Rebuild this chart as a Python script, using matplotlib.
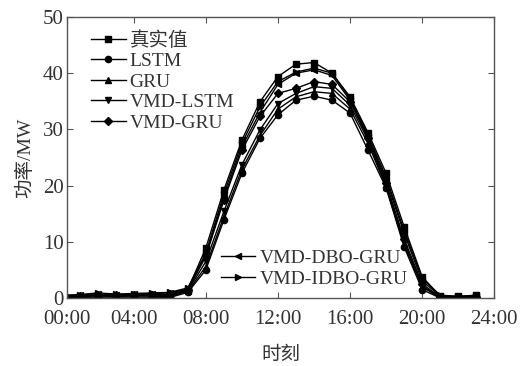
import matplotlib
matplotlib.use("Agg")
import matplotlib.pyplot as plt

plt.rcParams['font.family'] = ['Liberation Serif', 'Noto Sans CJK SC']
plt.rcParams['axes.unicode_minus'] = False

hours = list(range(24))
tick_pos = [0.28, 4, 8, 12, 16, 20, 24]
tick_labels = ["00:00", "04:00", "08:00", "12:00", "16:00", "20:00", "24:00"]

actual = [0.3, 0.3, 0.5, 0.3, 0.5, 0.5, 0.6, 1.5, 8.9, 19.2, 28.1, 34.9, 39.4, 41.6, 41.9, 40.0, 35.8, 29.4, 22.2, 12.7, 3.8, 0.3, 0.3, 0.5]
lstm = [0.0, 0.0, 0.0, 0.0, 0.0, 0.0, 0.1, 1.0, 5.0, 13.9, 22.2, 28.4, 32.6, 35.2, 35.9, 35.2, 32.9, 26.3, 19.6, 9.1, 1.5, 0.0, 0.0, 0.0]
gru = [0.0, 0.1, 0.2, 0.2, 0.2, 0.2, 0.3, 1.2, 5.6, 14.5, 22.9, 28.9, 33.6, 35.8, 36.7, 36.4, 33.6, 27.5, 19.8, 9.5, 2.0, 0.0, 0.0, 0.0]
vmd_lstm = [0.1, 0.2, 0.4, 0.3, 0.4, 0.4, 0.5, 1.3, 6.5, 15.4, 23.7, 29.9, 34.6, 36.4, 37.6, 37.3, 34.3, 28.1, 20.0, 10.0, 2.2, 0.1, 0.1, 0.1]
vmd_gru = [0.2, 0.3, 0.6, 0.5, 0.5, 0.6, 0.7, 1.4, 7.4, 17.4, 26.3, 32.3, 36.4, 37.3, 38.5, 38.0, 34.9, 28.5, 20.5, 10.5, 2.5, 0.2, 0.1, 0.2]
vmd_dbo_gru = [0.4, 0.5, 0.8, 0.6, 0.7, 0.8, 0.9, 1.6, 7.8, 17.8, 26.9, 33.0, 38.0, 40.0, 40.6, 39.6, 35.2, 28.7, 21.0, 11.5, 3.0, 0.4, 0.2, 0.3]
vmd_idbo_gru = [0.5, 0.6, 0.9, 0.7, 0.8, 0.9, 1.0, 1.8, 8.0, 18.5, 27.5, 34.0, 38.5, 40.2, 40.9, 40.0, 35.5, 29.0, 21.5, 12.0, 3.5, 0.5, 0.3, 0.4]

names = ["真实值", "LSTM", "GRU", "VMD-LSTM", "VMD-GRU", "VMD-DBO-GRU", "VMD-IDBO-GRU"]
markers = ["s", "o", "^", "v", "D", "<", ">"]
series = [actual, lstm, gru, vmd_lstm, vmd_gru, vmd_dbo_gru, vmd_idbo_gru]

fs_tick = 15
fs_leg = 14
fig = plt.figure(figsize=(5.23, 3.66), dpi=100)
ax = fig.add_axes([0.1275, 0.1858, 0.8175, 0.7678])

handles = []
for vals, name, mk in zip(series, names, markers):
    ms = 4 if mk == "D" else 4.5
    h, = ax.plot(hours, vals, color='black', lw=1.0, marker=mk, markersize=ms,
                 markerfacecolor='black', markeredgecolor='black', label=name)
    handles.append(h)

ax.set_xlim(0.28, 24)
ax.set_ylim(0, 50)
ax.set_xticks(tick_pos)
ax.set_xticklabels(tick_labels)
ax.set_yticks([0, 10, 20, 30, 40, 50])

txt_color = '#333333'
for s in ax.spines.values():
    s.set_color('#555555')
    s.set_linewidth(1.0)
ax.tick_params(direction='in', length=4, width=0.8, colors='#555555',
               labelcolor=txt_color, labelsize=fs_tick, top=True, right=True)
ax.tick_params(axis='x', pad=9)
ax.tick_params(axis='y', pad=2)

ax.set_xlabel("时刻", fontsize=14, color=txt_color, labelpad=12)
ax.set_ylabel("功率/MW", fontsize=14, color=txt_color, labelpad=6)

leg1 = ax.legend(handles=handles[:5], loc='upper left', bbox_to_anchor=(0.058, 0.95),
                 frameon=False, fontsize=fs_leg, handlelength=1.75, handletextpad=0.2,
                 labelspacing=0.15, borderaxespad=0, borderpad=0)
for t in leg1.get_texts():
    t.set_color(txt_color)
ax.add_artist(leg1)
leg2 = ax.legend(handles=handles[5:], loc='upper left', bbox_to_anchor=(0.362, 0.172),
                 frameon=False, fontsize=fs_leg, handlelength=1.75, handletextpad=0.2,
                 labelspacing=0.15, borderaxespad=0, borderpad=0)
for t in leg2.get_texts():
    t.set_color(txt_color)

fig.savefig("out.png", dpi=100)
